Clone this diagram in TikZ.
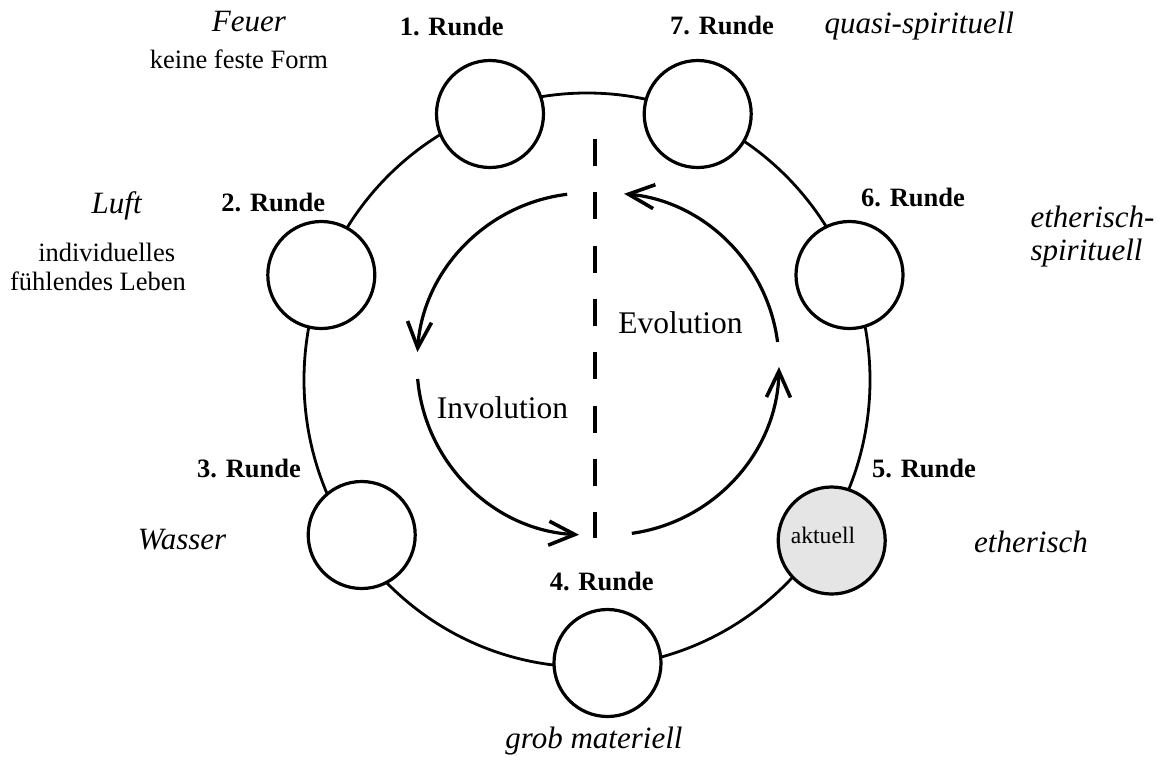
\documentclass[tikz,border=0pt]{standalone}
\usepackage{fontspec}
\setmainfont{Liberation Serif}
\usetikzlibrary{arrows.meta}

\begin{document}
\begin{tikzpicture}[
    x=1pt, y=-1pt,
    ring/.style={line width=2.8pt},
    runde/.style={circle, draw, line width=3.2pt, fill=white, minimum size=107pt, inner sep=0pt},
    current/.style={runde, fill=black!10},
    rlabel/.style={anchor=base, font=\fontsize{26.5}{30}\selectfont\bfseries},
    elem/.style={anchor=base, font=\fontsize{31}{36}\selectfont\itshape},
    note/.style={anchor=base, font=\fontsize{26.5}{30}\selectfont},
    phase/.style={anchor=base, font=\fontsize{31.5}{36}\selectfont},
    flow/.style={line width=3.2pt, -{Straight Barb[length=26pt, width=24pt, line width=3.6pt]}},
    axis/.style={line width=3.4pt, dash pattern=on 27pt off 26.3pt}
]
\useasboundingbox (0,0) rectangle (1172,780);

% Ring
\coordinate (mid) at (587,380);
\draw[ring] (mid) ellipse [x radius=283, y radius=287];

% Rounds
\node[runde] (r1) at (490,114) {};
\node[runde] (r2) at (321.3,275) {};
\node[runde] (r3) at (361.7,535) {};
\node[runde] (r4) at (607.5,663) {};
\node[current] (r5) at (831.7,540.5) {};
\node[runde] (r6) at (849.5,275) {};
\node[runde] (r7) at (697.7,114) {};
\node[anchor=base, font=\fontsize{23.6}{28}\selectfont] (akt) at (823,543.3) {aktuell};

% Round labels
\node[rlabel] (l1) at (451.7,35) {1. Runde};
\node[rlabel] (l2) at (273.3,211.7) {2. Runde};
\node[rlabel] (l3) at (249,477.3) {3. Runde};
\node[rlabel] (l4) at (601.7,590) {4. Runde};
\node[rlabel] (l5) at (924,477.3) {5. Runde};
\node[rlabel] (l6) at (913,206.7) {6. Runde};
\node[rlabel] (l7) at (722,34) {7. Runde};

% Elements
\node[elem] (feuer) at (249,31.7) {Feuer};
\node[note] (form) at (239,68.3) {keine feste Form};
\node[elem] (luft) at (116.7,213.3) {Luft};
\node[note] (indiv) at (106.7,261) {individuelles};
\node[note] (leben) at (98,290) {fühlendes Leben};
\node[elem] (wasser) at (182,549) {Wasser};
\node[elem] (grob) at (594,748) {grob materiell};
\node[elem] (ether) at (1031,552.7) {etherisch};
\node[elem, anchor=base west] (eth1) at (1027,227.7) {etherisch-};
\node[elem, anchor=base west] (eth2) at (1027,260) {spirituell};
\node[elem, anchor=base west] (quasi) at (821,33.3) {quasi-spirituell};

% Involution / Evolution
\coordinate (invc) at (588,364);
\coordinate (evoc) at (608,364);
\coordinate (axtop) at (595,139);
\coordinate (axbot) at (595,538);
\draw[axis] (axtop) -- (axbot);

\draw[flow] (invc) ++(-97:171) arc[start angle=-97, end angle=-176, radius=171];
\draw[flow] (invc) ++(-185:171) arc[start angle=-185, end angle=-267, radius=171];
\draw[flow] (evoc) ++(82:171) arc[start angle=82, end angle=1, radius=171];
\draw[flow] (evoc) ++(-7.4:171) arc[start angle=-7.4, end angle=-84.6, radius=171];

\node[phase] (invo) at (502.5,418.3) {Involution};
\node[phase] (evo) at (680.5,333.3) {Evolution};

\end{tikzpicture}
\end{document}
